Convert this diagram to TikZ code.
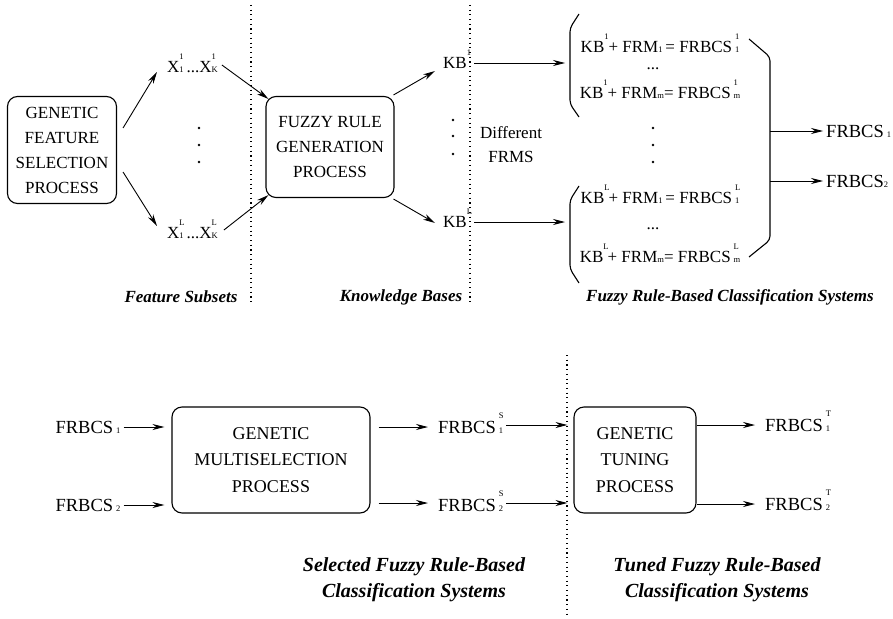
\documentclass[tikz,border=0pt]{standalone}
\usepackage{fontspec}
\setmainfont{Liberation Serif}
\usetikzlibrary{arrows.meta,calc}
\newcommand\supb[2]{\rlap{\raisebox{0.78em}[0pt][0pt]{\fontsize{8.5}{8.5}\selectfont #1}}{\fontsize{8.5}{8.5}\selectfont #2}}
\begin{document}
\begin{tikzpicture}[x=1pt,y=-1pt,
 box/.style={draw, rounded corners=10pt, line width=1.1pt, align=center, inner sep=0pt, font=\fontsize{17}{25}\selectfont},
 txt/.style={inner sep=0pt, font=\fontsize{17}{24}\selectfont, align=center},
 big/.style={inner sep=0pt, font=\fontsize{18.5}{20}\selectfont},
 captxt/.style={inner sep=0pt, align=center, font=\fontsize{17}{26}\selectfont\bfseries\itshape},
 bcaptxt/.style={inner sep=0pt, align=center, font=\fontsize{20}{26}\selectfont\bfseries\itshape},
 arr/.style={-{Stealth[length=12pt,width=6pt]}, line width=0.9pt},
 sep/.style={line width=1.1pt, dash pattern=on 1.1pt off 3.6pt},
 brk/.style={line width=1.1pt, line join=round, rounded corners=4pt},
 dot/.style={fill, circle, inner sep=0pt, minimum size=2.8pt}]
\fill[white] (0,0) rectangle (893,618);
\useasboundingbox (0,0) rectangle (893,618);

% ---------- top part ----------
\node[box, minimum width=109pt, minimum height=107pt] (b1) at (62,150) {GENETIC\\FEATURE\\SELECTION\\PROCESS};
\node[txt, anchor=west] (x1) at (167,67) {X\supb{1}{1}\,...X\supb{1}{K}};
\node[txt, anchor=west] (x2) at (167,233) {X\supb{L}{1}\,...X\supb{L}{K}};
\node[dot] (d1a) at (199,128) {};
\node[dot] (d1b) at (199,145) {};
\node[dot] (d1c) at (199,162) {};
\draw[arr] ([shift={(6,-22)}]b1.east) -- ([shift={(-10,5)}]x1.west);
\draw[arr] ([shift={(6,22)}]b1.east) -- ([shift={(-10,-7)}]x2.west);

\node[box, minimum width=128pt, minimum height=101pt] (b2) at (330,147) {FUZZY RULE\\GENERATION\\PROCESS};
\draw[arr] ([shift={(4,-2)}]x1.east) -- ([shift={(3,3)}]b2.north west);
\draw[arr] ([shift={(6,-3)}]x2.east) -- ([shift={(3,-3)}]b2.south west);

\draw[sep] (251,5) -- (251,305);
\draw[sep] (470,5) -- (470,305);

\node[txt, anchor=west] (kb1) at (443,63) {KB\supb{1}{}};
\node[txt, anchor=west] (kb2) at (443,222) {KB\supb{L}{}};
\draw[arr] ([shift={(-1,-1)}]b2.north east) -- ([shift={(-8,8)}]kb1.west);
\draw[arr] ([shift={(-1,1)}]b2.south east) -- ([shift={(-8,1)}]kb2.west);
\node[dot] (d2a) at (453,120) {};
\node[dot] (d2b) at (453,136) {};
\node[dot] (d2c) at (453,154) {};
\node[txt] (diff) at (511,145) {Different\\FRMS};

\coordinate (la) at (570,63);
\coordinate (lb) at (570,222);
\draw[arr] ([xshift=7pt]kb1.east) -- ([xshift=-5pt]la);
\draw[arr] ([xshift=7pt]kb2.east) -- ([xshift=-5pt]lb);

\draw[brk] (579,14) -- (570,28) -- (570,104) -- (579,117);
\draw[brk] (579,186) -- (570,200) -- (570,269) -- (579,283);
\draw[brk] (749,39) -- (770,57) -- (770,240) -- (749,257);

\node[txt] (e1) at (660,47) {KB\supb{1}{} + FRM\supb{}{1}\,= FRBCS\,\supb{1}{1}};
\node[txt] (e1d) at (653,69) {...};
\node[txt] (e2) at (660,93) {KB\supb{1}{} + FRM\supb{}{m}= FRBCS\,\supb{1}{m}};
\node[dot] (d3a) at (653,128) {};
\node[dot] (d3b) at (653,145) {};
\node[dot] (d3c) at (653,162) {};
\node[txt] (e3) at (660,198) {KB\supb{L}{} + FRM\supb{}{1}\,= FRBCS\,\supb{L}{1}};
\node[txt] (e3d) at (653,229) {...};
\node[txt] (e4) at (660,257) {KB\supb{L}{} + FRM\supb{}{m}= FRBCS\,\supb{L}{m}};

\coordinate (ra) at (770,131);
\coordinate (rb) at (770,181);
\node[big, anchor=west] (f1) at (826,131) {FRBCS\,\supb{}{1}};
\node[big, anchor=west] (f2) at (826,181) {FRBCS\supb{}{2}};
\draw[arr] (ra) -- ([xshift=-3pt]f1.west);
\draw[arr] (rb) -- ([xshift=-3pt]f2.west);

\node[captxt] (c1) at (181,297) {Feature Subsets};
\node[captxt] (c2) at (401,297) {Knowledge Bases};
\node[captxt] (c3) at (730,297) {Fuzzy Rule-Based Classification Systems};

% ---------- bottom part ----------
\node[big] (g1) at (88,427) {FRBCS\,\supb{}{1}};
\node[big] (g2) at (88,505) {FRBCS\,\supb{}{2}};
\node[box, minimum width=198pt, minimum height=106pt, font=\fontsize{18}{26.5}\selectfont] (b3) at (271,460) {GENETIC\\MULTISELECTION\\PROCESS};
\draw[arr] ([xshift=3pt]g1.east) -- ($(g1.east -| b3.west)+(-7,0)$);
\draw[arr] ([xshift=3pt]g2.east) -- ($(g2.east -| b3.west)+(-7,0)$);

\node[big, anchor=west] (s1) at (438,427) {FRBCS\,\supb{S}{1}};
\node[big, anchor=west] (s2) at (438,505) {FRBCS\,\supb{S}{2}};
\draw[arr] ($(s1.west -| b3.east)+(8,0)$) -- ($(s1.west)+(-10,0)$);
\draw[arr] ($(s2.west -| b3.east)+(8,-2)$) -- ($(s2.west)+(-10,-2)$);

\draw[sep] (567,355) -- (567,618);

\node[box, minimum width=122pt, minimum height=106pt, font=\fontsize{18}{26.5}\selectfont] (b4) at (635,460) {GENETIC\\TUNING\\PROCESS};
\draw[arr] ($(s1.east)+(3,-2)$) -- ($(s1.east -| b4.west)+(-6,-2)$);
\draw[arr] ($(s2.east)+(3,-2)$) -- ($(s2.east -| b4.west)+(-6,-2)$);

\node[big, anchor=west] (t1) at (765,425) {FRBCS\,\supb{T}{1}};
\node[big, anchor=west] (t2) at (765,504) {FRBCS\,\supb{T}{2}};
\draw[arr] (t1.west -| b4.east) -- ($(t1.west)+(-10,0)$);
\draw[arr] (t2.west -| b4.east) -- ($(t2.west)+(-10,0)$);

\node[bcaptxt] (c4) at (414,580) {Selected Fuzzy Rule-Based\\Classification Systems};
\node[bcaptxt] (c5) at (717,580) {Tuned Fuzzy Rule-Based\\Classification Systems};
\end{tikzpicture}
\end{document}
